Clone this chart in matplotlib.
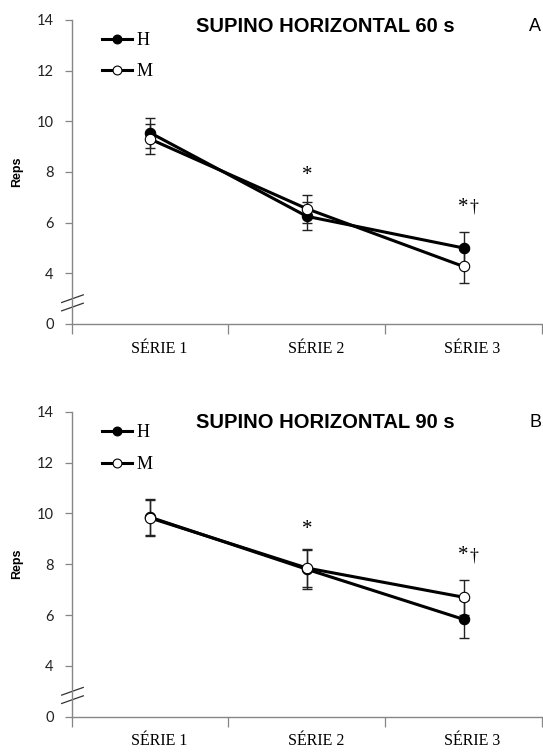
import matplotlib.pyplot as plt
import matplotlib.transforms as mtransforms

# categories
series = ['SÉRIE 1', 'SÉRIE 2', 'SÉRIE 3']
x_pos = [0.5, 1.5, 2.5]

# SUPINO HORIZONTAL 60 s
h60 = [9.55, 6.25, 5.0]
h60_err = [0.6, 0.55, 0.62]
m60 = [9.3, 6.55, 4.27]
m60_err = [0.6, 0.55, 0.65]

# SUPINO HORIZONTAL 90 s
h90 = [9.85, 7.8, 5.83]
h90_err = [0.71, 0.76, 0.75]
m90 = [9.82, 7.85, 6.7]
m90_err = [0.71, 0.76, 0.68]

# axis is broken: the "0" label sits where 2 would be
ytick_vals = [2, 4, 6, 8, 10, 12, 14]
ytick_labels = ['0', '4', '6', '8', '10', '12', '14']

SERIF = 'Liberation Serif'
SANS = 'Liberation Sans'
TICKFONT = 'Lato'
GRAY = '#868686'

fig = plt.figure(figsize=(5.43, 7.54), dpi=100)
ax_a = fig.add_axes([0.132, 0.5703, 0.866, 0.4032])
ax_b = fig.add_axes([0.132, 0.0495, 0.866, 0.4045])


def draw_panel(ax, h, herr, m, merr, title, letter, star_y, dag_y, title_y, letter_x, letter_ha, letter_y, leg_top):
    ax.errorbar(x_pos, h, yerr=herr, fmt='none', ecolor='#222222', elinewidth=1.0,
                capsize=3.5, capthick=1.0, zorder=2)
    ax.errorbar(x_pos, m, yerr=merr, fmt='none', ecolor='#222222', elinewidth=1.0,
                capsize=3.5, capthick=1.0, zorder=2)
    ax.plot(x_pos, h, color='black', lw=2.2, marker='o', ms=7.5, mfc='black',
            mec='black', mew=0.8, label='H', zorder=3)
    ax.plot(x_pos, m, color='black', lw=2.2, marker='o', ms=7.5, mfc='white',
            mec='black', mew=0.8, label='M', zorder=4)

    ax.set_xlim(0, 3)
    ax.set_ylim(2, 14)
    ax.set_xticks([0, 1, 2, 3])
    ax.set_xticklabels([])
    ax.set_xticks(x_pos, minor=True)
    ax.set_xticklabels(series, minor=True, family=SERIF, fontsize=11.5)
    ax.tick_params(axis='x', which='major', direction='out', length=7, width=0.9, color=GRAY)
    ax.tick_params(axis='x', which='minor', length=0, pad=12)
    offset = mtransforms.ScaledTranslation(0.09, 0, fig.dpi_scale_trans)
    for lab in ax.get_xticklabels(minor=True):
        lab.set_transform(lab.get_transform() + offset)

    ax.set_yticks(ytick_vals)
    ax.set_yticklabels(ytick_labels, family=TICKFONT, fontsize=10.5, color='#222222')
    ax.tick_params(axis='y', direction='out', length=5, width=0.9, color=GRAY, pad=8)

    for side in ['top', 'right']:
        ax.spines[side].set_visible(False)
    for side in ['left', 'bottom']:
        ax.spines[side].set_color(GRAY)
        ax.spines[side].set_linewidth(1.0)

    # axis break marks
    for yc in [0.0833, 0.0558]:
        ax.plot([-0.0213, 0.0247], [yc - 0.0126, yc + 0.0126], transform=ax.transAxes,
                clip_on=False, color='#333333', lw=0.9)

    ax.set_ylabel('Reps', family=SANS, fontweight='bold', fontsize=9)
    ax.yaxis.set_label_coords(-0.104, 0.5)

    ax.text(0.539, title_y, title, transform=ax.transAxes, ha='center', va='center',
            family=SANS, fontweight='bold', fontsize=14.5)
    ax.text(letter_x, letter_y, letter, transform=ax.transAxes, ha=letter_ha, va='center',
            family=SANS, fontsize=13, clip_on=False)

    ax.text(1.5, star_y, '*', ha='center', va='center', family=SERIF, fontsize=15)
    ax.text(2.5, dag_y, '*', ha='center', va='center', family=SERIF, fontsize=15)
    ax.text(2.565, dag_y, '†', ha='center', va='center', family=SERIF, fontsize=13)

    leg = ax.legend(loc='upper left', bbox_to_anchor=(0.0638, leg_top), frameon=False,
                    handlelength=1.67, handletextpad=0.28, labelspacing=0.8, borderpad=0,
                    borderaxespad=0, markerscale=0.85, prop={'family': SERIF, 'size': 13})
    return leg


draw_panel(ax_a, h60, h60_err, m60, m60_err, 'SUPINO HORIZONTAL 60 s', 'A',
           7.85, 6.6, 0.98, 0.985, 'center', 0.977, 0.9605)
draw_panel(ax_b, h90, h90_err, m90, m90_err, 'SUPINO HORIZONTAL 90 s', 'B',
           9.35, 8.33, 0.965, 1.0, 'right', 0.966, 0.958)

fig.savefig('out.png', dpi=100)
